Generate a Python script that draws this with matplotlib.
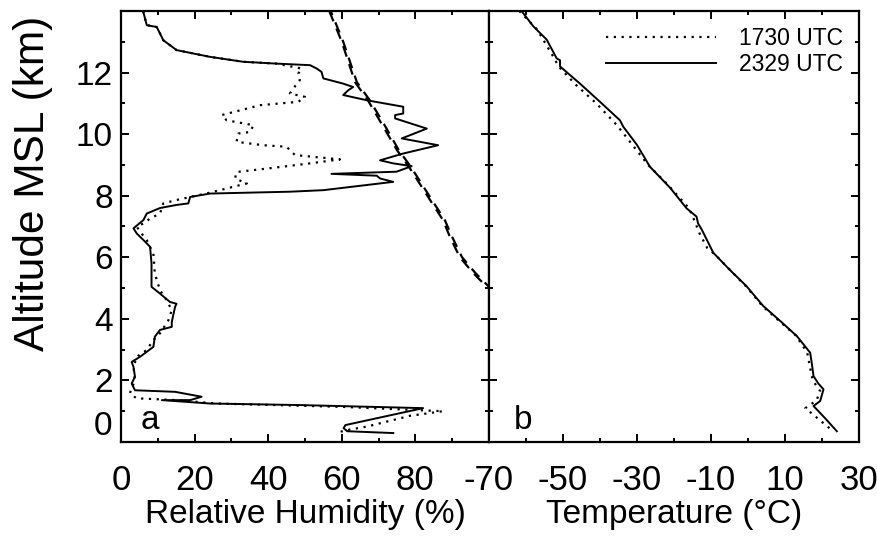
import matplotlib
matplotlib.use("Agg")
import matplotlib.pyplot as plt
from matplotlib.ticker import MultipleLocator

plt.rcParams['font.family'] = ['Liberation Sans', 'DejaVu Sans']
plt.rcParams['axes.unicode_minus'] = False

# relative humidity, 2329 UTC (solid)
rh_2329 = [6.0, 7.0, 9.7, 10.6, 11.5, 15.1, 24.2, 33.2, 42.3, 51.4, 53.2, 54.5, 55.0,
           60.4, 63.1, 61.8, 60.4, 66.8, 76.7, 76.7, 74.5, 74.5, 83.1, 76.3, 86.2,
           76.7, 70.4, 74.0, 79.0, 74.9, 57.2, 69.5, 70.4, 74.0, 55.0, 45.9, 24.2,
           18.8, 18.3, 15.1, 10.6, 7.0, 6.1, 3.4, 4.3, 6.1, 7.9, 8.3, 8.3, 10.6,
           13.3, 15.1, 14.7, 13.8, 13.8, 10.6, 9.2, 8.8, 5.2, 2.9, 3.4, 3.8, 2.9,
           3.8, 14.7, 21.9, 18.8, 11.1, 24.2, 48.6, 82.1, 61.0, 60.5, 61.5, 74.0]
alt_rh_2329 = [14.0, 13.54, 13.48, 13.27, 13.05, 12.73, 12.51, 12.35, 12.29, 12.24, 12.13,
               12.02, 11.81, 11.64, 11.53, 11.43, 11.27, 11.10, 10.89, 10.67, 10.62,
               10.51, 10.18, 9.86, 9.64, 9.37, 9.15, 9.05, 8.96, 8.78, 8.71, 8.65,
               8.56, 8.45, 8.18, 8.13, 8.07, 7.96, 7.75, 7.70, 7.60, 7.42, 7.21, 6.94,
               6.77, 6.56, 6.34, 5.80, 5.04, 4.82, 4.55, 4.49, 4.39, 3.90, 3.74, 3.64,
               3.42, 3.09, 2.77, 2.60, 2.44, 2.12, 1.90, 1.68, 1.63, 1.47, 1.36, 1.36,
               1.25, 1.20, 1.10, 0.55, 0.45, 0.35, 0.29]

# relative humidity, 1730 UTC (dotted)
rh_1730 = [6.0, 7.0, 9.7, 10.6, 11.5, 15.1, 24.2, 33.2, 42.3, 49.1, 48.2, 48.6, 46.8,
           45.9, 50.0, 48.2, 37.8, 27.4, 28.7, 36.0, 35.1, 31.9, 31.4, 38.7, 45.0,
           46.4, 47.3, 59.5, 51.4, 39.6, 31.4, 31.0, 34.2, 30.5, 24.2, 15.1, 11.5,
           10.6, 7.9, 6.1, 4.3, 5.6, 7.0, 8.8, 9.2, 10.6, 12.4, 13.8, 12.9, 10.6,
           8.8, 7.0, 4.3, 3.4, 3.8, 2.4, 4.2, 15.1, 26.0, 60.4, 87.5, 78.5, 66.8,
           62.0, 59.5]
alt_rh_1730 = [14.0, 13.54, 13.48, 13.27, 13.05, 12.73, 12.51, 12.35, 12.29, 12.13, 11.97,
               11.75, 11.48, 11.32, 11.21, 11.05, 10.94, 10.62, 10.45, 10.29, 10.07,
               10.02, 9.75, 9.64, 9.59, 9.42, 9.32, 9.18, 9.05, 8.88, 8.77, 8.56, 8.40,
               8.29, 8.10, 7.86, 7.75, 7.42, 7.26, 7.10, 6.99, 6.77, 6.56, 6.12, 5.47,
               4.93, 4.61, 4.28, 3.96, 3.53, 3.31, 2.99, 2.77, 2.44, 2.01, 1.58, 1.42,
               1.36, 1.25, 1.14, 1.00, 0.85, 0.50, 0.40, 0.33]

# saturation w.r.t. ice (dashed), both soundings
alt_ice = [14.0, 13.0, 11.69, 11.1, 10.3, 9.48, 8.93, 8.5, 7.86, 7.21, 6.66, 6.0, 5.49, 5.03]
rhi_1730 = [56.6, 60.0, 63.6, 67.1, 71.0, 75.0, 78.3, 80.6, 84.0, 87.5, 89.4, 92.1, 95.7, 99.5]
rhi_2329 = [57.0, 60.4, 64.1, 67.6, 71.6, 75.5, 78.8, 81.1, 84.5, 88.0, 90.0, 92.7, 96.3, 100.1]

# temperature
t_1730 = [-61.8, -57.0, -55.0, -52.3, -51.2, -46.5, -41.0, -35.5, -33.5, -27.0, -22.0,
          -16.0, -14.5, -13.2, -11.0, -9.0, -0.5, 4.0, 13.0, 16.0, 16.8, 17.5, 19.5,
          18.5, 15.5, 19.0, 23.0]
alt_t_1730 = [14.0, 13.4, 13.0, 12.45, 12.2, 11.6, 11.0, 10.3, 10.0, 9.0, 8.4, 7.6, 7.2,
              6.8, 6.3, 6.1, 5.05, 4.4, 3.45, 2.9, 2.4, 2.0, 1.65, 1.35, 1.1, 0.75, 0.35]
t_2329 = [-61.2, -58.0, -54.4, -51.7, -50.8, -50.8, -45.4, -40.0, -34.6, -33.7, -30.0,
          -26.5, -21.0, -16.6, -13.9, -13.5, -12.5, -9.4, -5.0, -0.4, 4.1, 9.0, 13.2,
          16.8, 17.3, 17.7, 19.0, 20.4, 19.5, 17.7, 21.0, 24.0]
alt_t_2329 = [14.0, 13.5, 13.07, 12.46, 12.4, 12.2, 11.64, 11.05, 10.45, 10.24, 9.65,
              8.94, 8.25, 7.59, 7.32, 7.1, 6.9, 6.15, 5.6, 5.06, 4.42, 3.9, 3.44, 2.9,
              2.5, 2.14, 1.9, 1.71, 1.33, 1.17, 0.75, 0.35]

DOT = (0, (1, 2.5))
DASH = (0, (5, 3.5))

fig = plt.figure(figsize=(8.78, 5.44), dpi=100)
ax1 = fig.add_axes([0.1378, 0.1875, 0.4191, 0.7923])
ax2 = fig.add_axes([0.5569, 0.1875, 0.4215, 0.7923], sharey=ax1)

ax1.plot(rh_1730, alt_rh_1730, color='black', lw=1.6, ls=DOT)
ax1.plot(rh_2329, alt_rh_2329, color='black', lw=1.4)
ax1.plot(rhi_1730, alt_ice, color='black', lw=1.6, ls=DASH)
ax1.plot(rhi_2329, alt_ice, color='black', lw=1.6, ls=(3, (5, 3.5)))

ax2.plot(t_1730, alt_t_1730, color='black', lw=1.6, ls=DOT, label='1730 UTC')
ax2.plot(t_2329, alt_t_2329, color='black', lw=1.4, label='2329 UTC')

ax1.set_xlim(0, 100)
ax2.set_xlim(-70, 30)
ax1.set_ylim(0, 14)

for ax in (ax1, ax2):
    ax.yaxis.set_minor_locator(MultipleLocator(1))
    ax.xaxis.set_minor_locator(MultipleLocator(10))
    ax.tick_params(which='both', direction='in', top=True, right=True, width=1.4)
    ax.tick_params(which='major', length=6)
    ax.tick_params(which='minor', length=3)
    ax.tick_params(axis='x', labelsize=25, pad=16)
    ax.tick_params(axis='y', labelsize=24, pad=6)
    for s in ax.spines.values():
        s.set_linewidth(1.6)

ax1.set_yticks([0, 2, 4, 6, 8, 10, 12])
ax1.set_xticks([0, 20, 40, 60, 80])
ax2.set_xticks([-70, -50, -30, -10, 10, 30])
ax2.tick_params(axis='y', labelleft=False)

ax1.set_xlabel('Relative Humidity (%)', fontsize=24, labelpad=1)
ax2.set_xlabel('Temperature (°C)', fontsize=24, labelpad=1)
ax1.set_ylabel('Altitude MSL (km)', fontsize=30.5)
ax1.yaxis.set_label_coords(-0.185, 0.6)

ax1.text(0.079, 0.05, 'a', transform=ax1.transAxes, fontsize=24, ha='center', va='center')
ax2.text(0.092, 0.05, 'b', transform=ax2.transAxes, fontsize=24, ha='center', va='center')

ax2.legend(loc='upper right', frameon=False, fontsize=16.5, handlelength=4.8,
           handletextpad=1.0, labelspacing=0.15, borderaxespad=0.6, borderpad=0.1)

fig.canvas.draw()
ax1.get_yticklabels()[0].set_va('bottom')

fig.savefig('out.png', dpi=100)
